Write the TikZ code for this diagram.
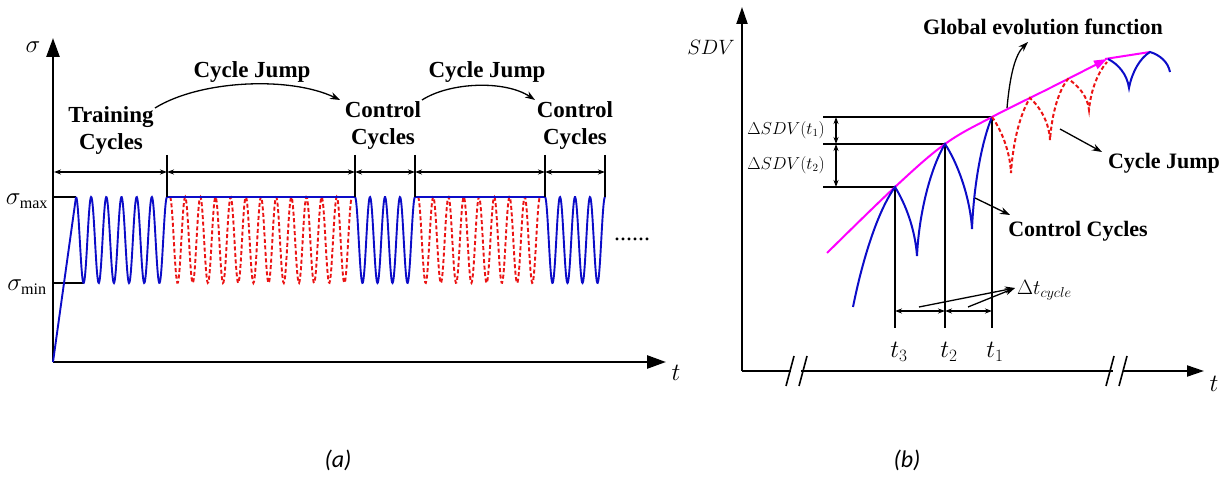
\documentclass[tikz,border=0pt]{standalone}
\usepackage{fontspec}
\setmainfont{Liberation Serif}
\newfontfamily\capfont{Carlito}
\usetikzlibrary{arrows.meta}
\definecolor{wblue}{RGB}{12,12,200}
\definecolor{wred}{RGB}{235,20,20}
\definecolor{wmag}{RGB}{255,0,255}
\begin{document}
\begin{tikzpicture}[x=1pt,y=-1pt,
  axisA/.style={line width=2.6pt,-{Triangle[length=19pt,width=13pt]}},
  axisB/.style={line width=2pt,-{Triangle[length=17pt,width=11pt]}},
  thin line/.style={line width=1.2pt},
  dimarrow/.style={line width=1.2pt,{Stealth[length=7pt,width=5pt]}-{Stealth[length=7pt,width=5pt]}},
  callout/.style={line width=1.3pt,-{Stealth[length=10pt,width=7pt]}},
  bluewave/.style={wblue,line width=1.9pt},
  redwave/.style={wred,line width=1.9pt,dash pattern=on 4pt off 2.5pt},
  lblA/.style={font=\fontsize{23}{27}\selectfont\bfseries,align=center,inner sep=0pt},
  lblB/.style={font=\fontsize{22}{26}\selectfont\bfseries,inner sep=0pt},
  mathlbl/.style={inner sep=0pt}
]
\useasboundingbox (0,0) rectangle (1228,478);

% ================= Panel (a) =================
\coordinate (Ao) at (53,362);
\coordinate (Ay) at (53,38);
\coordinate (Ax) at (666,362);
\draw[axisA] (Ao) -- (Ay);
\draw[axisA] (Ao) -- (Ax);
\node[mathlbl,font=\fontsize{31}{33}\selectfont] (sig) at (33,47) {$\sigma$};
\node[mathlbl,font=\fontsize{28}{30}\selectfont] (ta) at (676,373) {$t$};
\node[mathlbl,font=\fontsize{23}{26}\selectfont] (smax) at (27,201) {$\sigma_{\max}$};
\node[mathlbl,font=\fontsize{23}{26}\selectfont] (smin) at (27,287) {$\sigma_{\min}$};
\draw[line width=2pt] (53,197) -- (76,197);
\draw[line width=2pt] (53,283) -- (83.6,283);

% red dashed jumps
\draw[redwave] plot[domain=170:352,samples=300] (\x,{240-43*cos(23.736*(\x-170))});
\draw[redwave] plot[domain=418:540,samples=220] (\x,{240-43*cos(23.607*(\x-418))});
% blue cycles
\draw[bluewave] (Ao) -- (76,197);
\draw[bluewave] plot[domain=76:167,samples=200] (\x,{240-43*cos(23.736*(\x-76))});
\draw[bluewave] (167,197) -- (355,197);
\draw[bluewave] plot[domain=355:415,samples=140] (\x,{240-43*cos(24*(\x-355))});
\draw[bluewave] (415,197) -- (545,197);
\draw[bluewave] plot[domain=545:605,samples=140] (\x,{240-43*cos(24*(\x-545))});
\node[font=\fontsize{24}{26}\selectfont,inner sep=0pt] (dots) at (632,239) {......};

% brackets
\foreach \xx in {167,355,415,545,605} \draw[thin line] (\xx,155) -- (\xx,197);
\draw[dimarrow] (54,172) -- (167,172);
\draw[dimarrow] (167,172) -- (355,172);
\draw[dimarrow] (355,172) -- (415,172);
\draw[dimarrow] (415,172) -- (545,172);
\draw[dimarrow] (545,172) -- (605,172);

% labels
\node[lblA] (train) at (111,131) {Training\\Cycles};
\node[lblA] (ctrl1) at (383,126) {Control\\Cycles};
\node[lblA] (ctrl2) at (575,126) {Control\\Cycles};
\node[lblA] (jump1) at (252,72) {Cycle Jump};
\node[lblA] (jump2) at (487,72) {Cycle Jump};
\draw[callout] (155,108) .. controls (200,80) and (290,76) .. (340,100);
\draw[callout] (422,100) .. controls (450,82) and (505,80) .. (535,100);

\node[font=\capfont\itshape\fontsize{24}{28}\selectfont] (capa) at (338,460) {(a)};

% ================= Panel (b) =================
\coordinate (Bo) at (742,371);
\coordinate (By) at (742,7);
\coordinate (Bx) at (1204,371);
\draw[axisB] (Bo) -- (By);
\draw[line width=2pt] (Bo) -- (791,371);
\draw[line width=2pt] (801,371) -- (1113,371);
\draw[axisB] (1123,371) -- (Bx);
\draw[line width=1.6pt] (786,386) -- (794,356);
\draw[line width=1.6pt] (799,386) -- (807,356);
\draw[line width=1.6pt] (1106,386) -- (1114,356);
\draw[line width=1.6pt] (1119,386) -- (1127,356);
\node[mathlbl,font=\fontsize{28}{30}\selectfont] (tb) at (1214,384) {$t$};
\node[mathlbl,font=\fontsize{22}{26}\selectfont] (sdv) at (711,47) {$SDV$};

% peaks
\coordinate (P3) at (895,187);
\coordinate (P2) at (945,144);
\coordinate (P1) at (992,117);

% reference lines
\draw[thin line] (823,117) -- (P1);
\draw[thin line] (823,144) -- (P2);
\draw[thin line] (823,187) -- (P3);
\draw[thin line] (P3) -- (895,328);
\draw[thin line] (P2) -- (945,328);
\draw[thin line] (P1) -- (992,328);
\draw[dimarrow] (836,117) -- (836,144);
\draw[dimarrow] (836,144) -- (836,187);
\draw[dimarrow] (895,311) -- (945,311);
\draw[dimarrow] (945,311) -- (992,311);
\node[mathlbl,font=\fontsize{16}{20}\selectfont] (d1) at (786,130) {$\Delta SDV(t_1)$};
\node[mathlbl,font=\fontsize{16}{20}\selectfont] (d2) at (786,165) {$\Delta SDV(t_2)$};
\node[mathlbl,font=\fontsize{27}{30}\selectfont] (t3) at (899,352) {$t_3$};
\node[mathlbl,font=\fontsize{27}{30}\selectfont] (t2) at (949,352) {$t_2$};
\node[mathlbl,font=\fontsize{27}{30}\selectfont] (t1) at (995,352) {$t_1$};

% global evolution (magenta)
\draw[wmag,line width=2pt,-{Triangle[length=13pt,width=9pt]}] plot[smooth,tension=0.6] coordinates {(827,253) (895,187) (945,144) (992,117) (1050,88) (1107,59)};
\draw[wmag,line width=2pt] (1105,59) -- (1150,52);

% control cycles (blue)
\draw[bluewave,line width=2pt] (853,307) .. controls (862,262) and (877,212) .. (P3)
  .. controls (905,203) and (915,228) .. (917,256)
  .. controls (919,212) and (931,167) .. (P2)
  .. controls (957,162) and (970,196) .. (972,229)
  .. controls (974,180) and (983,138) .. (P1);
% cycle jump (red dashed)
\draw[redwave,line width=2pt] (P1)
  .. controls (1002,131) and (1010,152) .. (1011,173)
  .. controls (1013,140) and (1021,112) .. (1030,98)
  .. controls (1040,107) and (1049,122) .. (1050,140)
  .. controls (1052,112) and (1059,90) .. (1068,79)
  .. controls (1078,85) and (1088,97) .. (1089,110)
  .. controls (1091,88) and (1099,71) .. (1107,62);
\draw[bluewave,line width=2pt] (1108,59)
  .. controls (1118,64) and (1127,74) .. (1129,88)
  .. controls (1132,72) and (1140,58) .. (1150,52)
  .. controls (1160,55) and (1168,62) .. (1170,72);

% callouts
\node[lblB] (gef) at (1043,27) {Global evolution function};
\node[lblB] (cj) at (1164,163) {Cycle Jump};
\node[lblB] (cc) at (1078,231) {Control Cycles};
\node[mathlbl,font=\fontsize{20}{24}\selectfont,anchor=west] (dt) at (1017,290) {$\Delta t_{cycle}$};
\coordinate (gefS) at (1007,108);
\draw[callout] (gefS) .. controls (1010,75) and (1015,55) .. (1028,42);
\coordinate (cjS) at (1060,129);
\draw[callout] (cjS) -- (1102,152);
\coordinate (ccS) at (975,198);
\draw[callout] (ccS) -- (1010,215);
\coordinate (dtT) at (1015,288);
\draw[callout] (919,307) -- (dtT);
\draw[callout] (968,307) -- (dtT);

\node[font=\capfont\itshape\fontsize{24}{28}\selectfont] (capb) at (907,460) {(b)};
\end{tikzpicture}
\end{document}
